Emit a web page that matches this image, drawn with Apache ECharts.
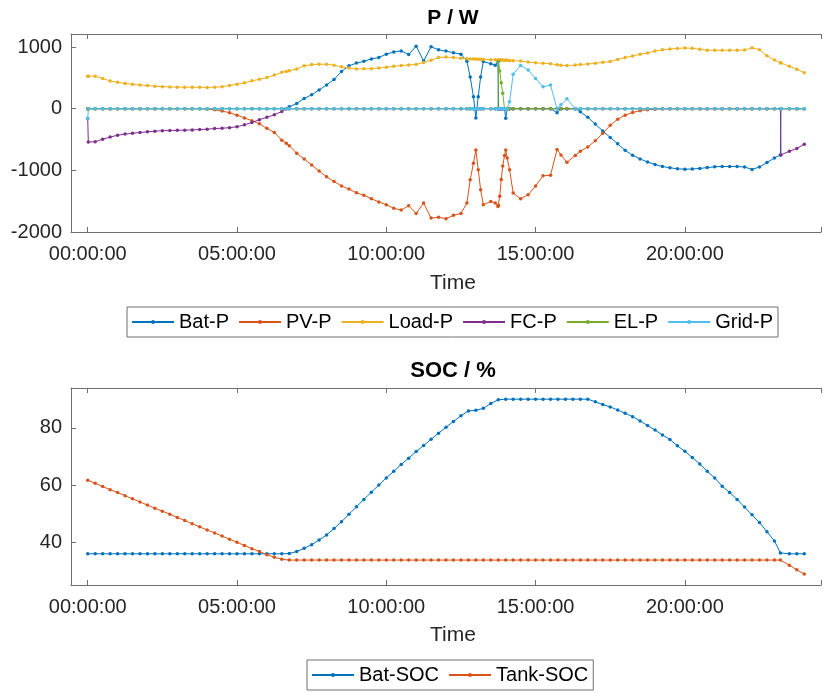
<!DOCTYPE html>
<html><head><meta charset="utf-8">
<script src="https://cdn.jsdelivr.net/npm/echarts@6/dist/echarts.min.js"></script>
<style>html,body{margin:0;padding:0;background:#fff}#c{width:824px;height:693px}</style>
</head><body><div id="c"></div><script>
// ---------- top chart: time (hours) shared by all power series ----------
const hoursP = [
  0, 0.02, 0.25, 0.5, 0.75, 1, 1.25, 1.5, 1.75, 2,
  2.25, 2.5, 2.75, 3, 3.25, 3.5, 3.75, 4, 4.25, 4.5,
  4.75, 5, 5.25, 5.5, 5.75, 6, 6.25, 6.5, 6.65, 6.75,
  7, 7.25, 7.5, 7.75, 8, 8.25, 8.5, 8.75, 9, 9.25,
  9.5, 9.75, 10, 10.25, 10.5, 10.75, 11, 11.25, 11.5, 11.75,
  12, 12.25, 12.5, 12.7, 12.81, 12.92, 13, 13.08, 13.16, 13.25,
  13.5, 13.65, 13.74, 13.76, 13.8, 13.85, 13.9, 13.96, 14, 14.05,
  14.13, 14.25,
  14.5, 14.75, 15, 15.25, 15.5, 15.72, 15.85, 16.05, 16.33, 16.5,
  16.75, 17, 17.25, 17.5, 17.75, 18, 18.25, 18.5, 18.75, 19,
  19.25, 19.5, 19.75, 20, 20.25, 20.5, 20.75, 21, 21.25, 21.5,
  21.75, 22, 22.25, 22.5, 22.75, 23, 23.2, 23.22, 23.5, 23.75,
  24
];
const batP = [
  0, 0, 0, 0, 0, 0, 0, 0, 0, 0,
  0, 0, 0, 0, 0, 0, 0, 0, 0, 0,
  0, 0, 0, 0, 0, 0, 0, 0, 0, 30,
  86, 167, 225, 305, 385, 475, 605, 695, 740, 768,
  808, 830, 885, 920, 938, 878, 1015, 775, 1005, 955,
  935, 908, 885, 770, 515, 195, -150, 195, 515, 764,
  730, 705, 764, 0, 0, 0, 0, 0, -156, 0,
  0, 0,
  0, 0, 0, 0, 0, -65, 0, 0, 0, -50,
  -140, -250, -360, -465, -570, -675, -755, -815, -865, -905,
  -938, -958, -975, -981, -978, -969, -955, -942, -938, -938,
  -938, -946, -985, -945, -873, -800, -749, 0, 0, 0,
  0
];
const pvP = [
  0, 0, 0, 0, 0, 0, 0, 0, 0, 0,
  0, 0, 0, 0, 0, 0, 0, -5, -18, -38,
  -65, -105, -150, -195, -245, -318, -385, -510, -560, -600,
  -722, -815, -915, -1010, -1105, -1180, -1255, -1304, -1365, -1405,
  -1460, -1512, -1558, -1615, -1644, -1575, -1698, -1531, -1773, -1762,
  -1784, -1730, -1698, -1531, -1153, -884, -668, -992, -1315, -1558,
  -1504, -1531, -1585, -1570, -1420, -1150, -930, -760, -668, -800,
  -992, -1369,
  -1461, -1395, -1255, -1089, -1080, -660, -749, -870, -760, -690,
  -620, -520, -400, -270, -170, -105, -60, -32, -15, -7,
  -2, 0, 0, 0, 0, 0, 0, 0, 0, 0,
  0, 0, 0, 0, 0, 0, 0, 0, 0, 0,
  0
];
const loadP = [
  528, 528, 528, 490, 450, 430, 410, 395, 385, 375,
  365, 358, 353, 350, 350, 348, 347, 345, 348, 358,
  375, 398, 420, 452, 478, 507, 545, 590, 605, 615,
  645, 695, 716, 722, 720, 706, 680, 660, 645, 647,
  650, 660, 673, 688, 700, 710, 718, 750, 787, 830,
  838, 830, 818, 810, 808, 806, 805, 804, 803, 800,
  796, 793, 791, 791, 790, 790, 789, 788, 787, 786,
  784, 780,
  772, 757, 745, 737, 730, 712, 706, 700, 708, 717,
  727, 737, 752, 765, 798, 830, 855, 885, 905, 935,
  955, 970, 978, 985, 980, 965, 950, 949, 949, 949,
  949, 952, 988, 955, 860, 790, 745, 742, 690, 640,
  582
];
const fcP = [
  -160, -540, -535, -495, -460, -430, -412, -398, -385, -375,
  -365, -356, -354, -350, -348, -344, -338, -332, -322, -316,
  -308, -292, -262, -222, -178, -140, -98, -45, 0, 0,
  0, 0, 0, 0, 0, 0, 0, 0, 0, 0,
  0, 0, 0, 0, 0, 0, 0, 0, 0, 0,
  0, 0, 0, 0, 0, 0, 0, 0, 0, 0,
  0, 0, 0, 0, 0, 0, 0, 0, 0, 0,
  0, 0,
  0, 0, 0, 0, 0, 0, 0, 0, 0, 0,
  0, 0, 0, 0, 0, 0, 0, 0, 0, 0,
  0, 0, 0, 0, 0, 0, 0, 0, 0, 0,
  0, 0, 0, 0, 0, 0, 0, -749, -690, -645,
  -577
];
const elP = [
  0, 0, 0, 0, 0, 0, 0, 0, 0, 0,
  0, 0, 0, 0, 0, 0, 0, 0, 0, 0,
  0, 0, 0, 0, 0, 0, 0, 0, 0, 0,
  0, 0, 0, 0, 0, 0, 0, 0, 0, 0,
  0, 0, 0, 0, 0, 0, 0, 0, 0, 0,
  0, 0, 0, 0, 0, 0, 0, 0, 0, 0,
  0, 0, 0, 764, 610, 420, 250, 0, 0, 0,
  0, 0,
  0, 0, 0, 0, 0, 0, 0, 0, 0, 0,
  0, 0, 0, 0, 0, 0, 0, 0, 0, 0,
  0, 0, 0, 0, 0, 0, 0, 0, 0, 0,
  0, 0, 0, 0, 0, 0, 0, 0, 0, 0,
  0
];
const gridP = [
  -160, 0, 0, 0, 0, 0, 0, 0, 0, 0,
  0, 0, 0, 0, 0, 0, 0, 0, 0, 0,
  0, 0, 0, 0, 0, 0, 0, 0, 0, 0,
  0, 0, 0, 0, 0, 0, 0, 0, 0, 0,
  0, 0, 0, 0, 0, 0, 0, 0, 0, 0,
  0, 0, 0, 0, 0, 0, 0, 0, 0, 0,
  0, 0, 0, 0, 0, 0, 0, 0, 0, 0,
  113, 560,
  700, 630, 490, 356, 383, 0, 65, 160, 0, 0,
  0, 0, 0, 0, 0, 0, 0, 0, 0, 0,
  0, 0, 0, 0, 0, 0, 0, 0, 0, 0,
  0, 0, 0, 0, 0, 0, 0, 0, 0, 0,
  0
];
// ---------- bottom chart ----------
const hoursSOC = [
  0, 0.25, 0.5, 0.75, 1, 1.25, 1.5, 1.75, 2, 2.25,
  2.5, 2.75, 3, 3.25, 3.5, 3.75, 4, 4.25, 4.5, 4.75,
  5, 5.25, 5.5, 5.75, 6, 6.25, 6.5, 6.75, 7, 7.25,
  7.5, 7.75, 8, 8.25, 8.5, 8.75, 9, 9.25, 9.5, 9.75,
  10, 10.25, 10.5, 10.75, 11, 11.25, 11.5, 11.75, 12, 12.25,
  12.5, 12.75, 13, 13.25, 13.5, 13.75, 14, 14.25, 14.5, 14.75,
  15, 15.25, 15.5, 15.75, 16, 16.25, 16.5, 16.75, 17, 17.25,
  17.5, 17.75, 18, 18.25, 18.5, 18.75, 19, 19.25, 19.5, 19.75,
  20, 20.25, 20.5, 20.75, 21, 21.25, 21.5, 21.75, 22, 22.25,
  22.5, 22.75, 23, 23.2, 23.5, 23.75, 24
];
const batSOC = [
  36, 36, 36, 36, 36, 36, 36, 36, 36, 36,
  36, 36, 36, 36, 36, 36, 36, 36, 36, 36,
  36, 36, 36, 36, 36, 36, 36, 36.1, 36.8, 37.9,
  39.2, 40.8, 42.6, 44.8, 47.2, 49.8, 52.4, 55, 57.5, 60,
  62.5, 64.8, 67.2, 69.4, 71.7, 73.8, 76, 78.1, 80.2, 82.2,
  84.2, 85.9, 86.1, 86.8, 88.5, 89.8, 90, 90, 90, 90,
  90, 90, 90, 90, 90, 90, 90, 90, 89.1, 88.1,
  87.3, 86.2, 85.1, 83.9, 82.4, 80.8, 79.2, 77.5, 75.9, 73.7,
  71.8, 69.6, 67.4, 64.8, 62.5, 59.6, 57.4, 55, 52.3, 49.6,
  46.9, 43.7, 40.5, 36.3, 36, 36, 36
];
const tankSOC = [
  61.7, 60.6, 59.5, 58.4, 57.4, 56.3, 55.2, 54.1, 53, 51.9,
  50.9, 49.8, 48.7, 47.6, 46.5, 45.4, 44.3, 43.3, 42.2, 41.1,
  40, 38.9, 37.8, 36.8, 35.7, 34.8, 34.1, 33.8, 33.8, 33.8,
  33.8, 33.8, 33.8, 33.8, 33.8, 33.8, 33.8, 33.8, 33.8, 33.8,
  33.8, 33.8, 33.8, 33.8, 33.8, 33.8, 33.8, 33.8, 33.8, 33.8,
  33.8, 33.8, 33.8, 33.8, 33.8, 33.8, 33.8, 33.8, 33.8, 33.8,
  33.8, 33.8, 33.8, 33.8, 33.8, 33.8, 33.8, 33.8, 33.8, 33.8,
  33.8, 33.8, 33.8, 33.8, 33.8, 33.8, 33.8, 33.8, 33.8, 33.8,
  33.8, 33.8, 33.8, 33.8, 33.8, 33.8, 33.8, 33.8, 33.8, 33.8,
  33.8, 33.8, 33.8, 33.8, 32.0, 30.4, 28.9
];
const xTickLabels = ['00:00:00', '05:00:00', '10:00:00', '15:00:00', '20:00:00'];
const topTitle = 'P / W', bottomTitle = 'SOC / %', xName = 'Time';
const topNames = ['Bat-P', 'PV-P', 'Load-P', 'FC-P', 'EL-P', 'Grid-P'];
const bottomNames = ['Bat-SOC', 'Tank-SOC'];

const colors = ['#0072BD', '#D95319', '#EDB120', '#7E2F8E', '#77AC30', '#4DBEEE'];
const FONT = 'Liberation Sans, Arial, Helvetica, sans-serif';
const AX = '#6f6f6f', TXT = '#262626';

function mkSeries(name, hrs, vals, color, gi) {
  return {
    type: 'line', name, xAxisIndex: gi * 2, yAxisIndex: gi,
    data: hrs.map((h, i) => [h, vals[i]]),
    symbol: 'circle', symbolSize: 3.5, showSymbol: true,
    lineStyle: { width: 1, color }, itemStyle: { color },
    emphasis: { disabled: true }, animation: false, clip: true
  };
}
function xAxes(gi) {
  const base = {
    type: 'value', gridIndex: gi, min: -0.56, max: 24.56, minInterval: 5, maxInterval: 5, splitNumber: 5,
    splitLine: { show: false },
    axisLine: { show: true, onZero: false, lineStyle: { color: AX, width: 1 } },
    axisTick: { show: true, inside: true, length: 5, lineStyle: { color: AX } }
  };
  return [
    Object.assign({}, base, { position: 'bottom',
      axisLabel: { show: true, margin: 12, fontSize: 20, fontFamily: FONT, color: TXT,
        formatter: v => (Math.abs(v % 5) < 1e-6 && v >= 0 && v <= 20) ? xTickLabels[Math.round(v / 5)] : '' } }),
    Object.assign({}, base, { position: 'top', axisLabel: { show: false } })
  ];
}
const fmtY = step => v => (Math.abs(v / step - Math.round(v / step)) < 1e-6) ? String(v) : '';
function yAxis(gi, min, max, step) {
  return { type: 'value', gridIndex: gi, min, max, minInterval: step, maxInterval: step, position: 'left',
    splitLine: { show: false },
    axisLine: { show: true, onZero: false, lineStyle: { color: AX, width: 1 } },
    axisTick: { show: true, inside: true, length: 5, lineStyle: { color: AX } },
    axisLabel: { margin: 9, fontSize: 20, fontFamily: FONT, color: TXT, formatter: fmtY(step) } };
}
function legend(names, left, top) {
  return { data: names, left, top, orient: 'horizontal', itemWidth: 42, itemHeight: 5, itemGap: 9,
    padding: [5, 5, 5, 4], borderColor: AX, borderWidth: 1, selectedMode: false,
    textStyle: { fontSize: 20, fontFamily: FONT, color: '#000' } };
}

const option = {
  animation: false,
  backgroundColor: '#fff',
  grid: [
    { left: 71, top: 34, width: 762, height: 198 },
    { left: 71, top: 388, width: 762, height: 197 }
  ],
  xAxis: [...xAxes(0), ...xAxes(1)],
  yAxis: [yAxis(0, -2000, 1212, 1000), yAxis(1, 25.1, 93.9, 20)],
  legend: [legend(topNames, 127, 307), legend(bottomNames, 307, 660)],
  graphic: [
    { type: 'text', x: 453, y: 18, style: { text: topTitle, font: 'bold 21px ' + FONT, fill: '#000', textAlign: 'center', textVerticalAlign: 'middle' } },
    { type: 'text', x: 453, y: 283, style: { text: xName, font: '21px ' + FONT, fill: TXT, textAlign: 'center', textVerticalAlign: 'middle' } },
    { type: 'text', x: 453, y: 371, style: { text: bottomTitle, font: 'bold 22px ' + FONT, fill: '#000', textAlign: 'center', textVerticalAlign: 'middle' } },
    { type: 'text', x: 453, y: 635, style: { text: xName, font: '21px ' + FONT, fill: TXT, textAlign: 'center', textVerticalAlign: 'middle' } }
  ],
  series: [
    mkSeries(topNames[0], hoursP, batP, colors[0], 0),
    mkSeries(topNames[1], hoursP, pvP, colors[1], 0),
    mkSeries(topNames[2], hoursP, loadP, colors[2], 0),
    mkSeries(topNames[3], hoursP, fcP, colors[3], 0),
    mkSeries(topNames[4], hoursP, elP, colors[4], 0),
    mkSeries(topNames[5], hoursP, gridP, colors[5], 0),
    mkSeries(bottomNames[0], hoursSOC, batSOC, colors[0], 1),
    mkSeries(bottomNames[1], hoursSOC, tankSOC, colors[1], 1)
  ]
};
const chart = echarts.init(document.getElementById('c'), null, { renderer: 'canvas' });
chart.setOption(option);
</script></body></html>
